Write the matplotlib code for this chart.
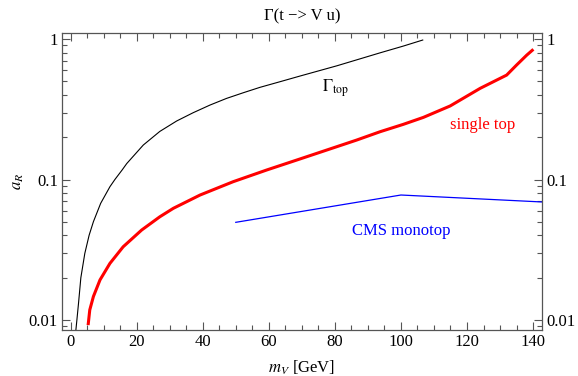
import numpy as np
import matplotlib
matplotlib.use('Agg')
import matplotlib.pyplot as plt
from matplotlib.ticker import FixedLocator, FixedFormatter, MultipleLocator, LogLocator, NullFormatter

plt.rcParams['font.family'] = ['Liberation Serif', 'DejaVu Serif']
plt.rcParams['mathtext.fontset'] = 'stix'

# Gamma_top curve (black)
gtop_m = [1.6, 1.9, 2.4, 3.1, 4.3, 5.6, 6.9, 9.1, 11.9, 13.4, 15.6, 17.0, 22.0, 27.0, 32.1, 37.1,
          42.2, 47.2, 52.3, 57.3, 63.4, 69.4, 80.6, 93.7, 100.7, 106.6]
gtop_a = [0.0085, 0.010, 0.0132, 0.020, 0.0298, 0.0401, 0.0501, 0.0677, 0.0889, 0.100, 0.117, 0.130,
          0.176, 0.220, 0.261, 0.299, 0.339, 0.378, 0.415, 0.453, 0.497, 0.545, 0.645, 0.798, 0.891, 0.984]

# single top curve (red)
st_m = [5.3, 5.8, 6.9, 8.9, 11.9, 15.9, 21.5, 27.0, 31.1, 39.2, 49.2, 59.4, 69.4, 86.6, 93.7, 100.7,
        106.8, 114.9, 124.0, 132.0, 135.0, 138.1, 140.1]
st_a = [0.0092, 0.0118, 0.0147, 0.0193, 0.0253, 0.0332, 0.0437, 0.0543, 0.0624, 0.0776, 0.0965, 0.117,
        0.140, 0.191, 0.219, 0.247, 0.277, 0.334, 0.446, 0.554, 0.653, 0.769, 0.845]

# CMS monotop limit (blue)
cms_m = [50, 100, 150]
cms_a = [0.0496, 0.0776, 0.0679]

fig = plt.figure(figsize=(5.78, 3.76), dpi=100)
ax = fig.add_axes([0.1073, 0.1223, 0.8304, 0.7899])

ax.plot(gtop_m, gtop_a, color='black', lw=0.8)
ax.plot(st_m, st_a, color='red', lw=2.2, solid_capstyle='butt')
ax.plot(cms_m, cms_a, color='blue', lw=0.9)

ax.set_yscale('log')
ax.set_xlim(-2.6, 142.7)
ax.set_ylim(0.00849, 1.104)

ax.text(80.2, 0.45, r'$\Gamma_{\mathrm{top}}$', fontsize=12, ha='center', va='center')
ax.text(124.7, 0.244, 'single top', color='red', fontsize=12, ha='center', va='center')
ax.text(100.0, 0.043, 'CMS monotop', color='blue', fontsize=12, ha='center', va='center')

ax.set_title('Γ(t −> V u)', fontsize=12, pad=9)
ax.set_xlabel(r'$m_V$ [GeV]', fontsize=12, labelpad=6)
ax.set_ylabel(r'$a_R$', fontsize=12, labelpad=2)

ax.xaxis.set_major_locator(MultipleLocator(20))
ax.xaxis.set_minor_locator(MultipleLocator(5))
ax.yaxis.set_major_locator(FixedLocator([0.01, 0.1, 1]))
ax.yaxis.set_major_formatter(FixedFormatter(['0.01', '0.1', '1']))
ax.yaxis.set_minor_locator(LogLocator(base=10, subs=np.arange(2, 10)))
ax.yaxis.set_minor_formatter(NullFormatter())

ax.tick_params(which='both', direction='in', top=True, right=True, labelright=True,
               labelsize=12, color='#555555', width=0.8, pad=3)
ax.tick_params(which='major', length=6)
ax.tick_params(which='minor', length=3.5)
for s in ax.spines.values():
    s.set_color('#555555')
    s.set_linewidth(0.9)

fig.savefig('out.png', dpi=100)
